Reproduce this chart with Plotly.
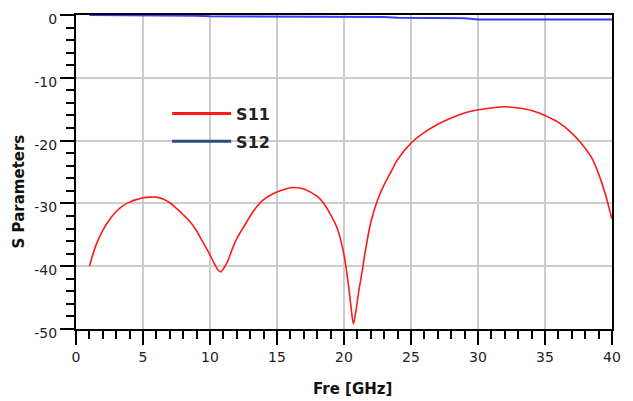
import plotly.graph_objects as go

# ---- data ----
freq_s11 = [1, 1.5, 2, 2.5, 3, 3.5, 4, 4.5, 5, 5.5, 6, 6.5, 7, 7.5, 8, 8.5, 9, 9.5, 10,
            10.3, 10.6, 10.8, 11, 11.3, 11.6, 12, 12.5, 13, 13.5, 14, 14.5, 15, 15.5, 16,
            16.5, 17, 17.5, 18, 18.5, 19, 19.5, 20, 20.3, 20.5, 20.7, 20.9, 21.1, 21.3,
            21.6, 22, 22.5, 23, 23.5, 24, 25, 26, 27, 28, 29, 30, 31, 32, 33, 34, 35, 36,
            37, 38, 38.5, 39, 39.5, 40]
s11 = [-40.0, -36.6, -34.3, -32.6, -31.3, -30.4, -29.8, -29.4, -29.1, -29.0, -29.0, -29.3,
       -29.9, -30.8, -31.8, -32.9, -34.4, -36.3, -38.2,
       -39.5, -40.6, -40.9, -40.4, -39.3, -37.6, -35.6, -33.8, -32.0, -30.5, -29.4, -28.7,
       -28.2, -27.8, -27.5, -27.5, -27.7, -28.2, -28.9, -30.0, -31.8, -34.0, -38.2, -42.5,
       -46.0, -49.2, -47.0, -44.0, -41.5, -37.5, -33.0, -29.5, -27.0, -25.0, -23.0, -20.4,
       -18.7, -17.4, -16.4, -15.6, -15.1, -14.8, -14.6, -14.8, -15.2, -16.0, -17.1, -18.8,
       -21.2, -22.8, -25.3, -28.5, -32.5]

freq_s12 = [1, 2, 3, 4, 5, 6, 7, 8, 9, 10, 11, 12, 13, 14, 15, 16, 17, 18, 19, 20, 21, 22,
            23, 24, 25, 26, 27, 28, 29, 30, 31, 32, 33, 34, 35, 36, 37, 38, 39, 40]
s12 = [0.0, 0.0, 0.0, 0.0, 0.0, 0.0, 0.0, 0.0, -0.1, -0.2, -0.2, -0.2, -0.2, -0.2, -0.2,
       -0.2, -0.2, -0.2, -0.2, -0.2, -0.2, -0.2, -0.3, -0.45, -0.45, -0.45, -0.45, -0.45,
       -0.5, -0.7, -0.7, -0.7, -0.7, -0.7, -0.7, -0.7, -0.7, -0.7, -0.7, -0.7]

x_ticks = [0, 5, 10, 15, 20, 25, 30, 35, 40]
y_ticks = [0, -10, -20, -30, -40, -50]

fig = go.Figure()
fig.add_trace(go.Scatter(x=freq_s11, y=s11, mode="lines", name="S11",
                         line=dict(color="#ff1a1a", width=1.6, shape="spline", smoothing=0.8),
                         showlegend=False))
fig.add_trace(go.Scatter(x=freq_s12, y=s12, mode="lines", name="S12",
                         line=dict(color="#3b3bff", width=2), showlegend=False))
# legend entries
fig.add_trace(go.Scatter(x=[None], y=[None], mode="lines", name="S11", legendgroup="a",
                         line=dict(color="#ff1a1a", width=3)))
fig.add_trace(go.Scatter(x=[None], y=[None], mode="lines", name="S12", legendgroup="b",
                         line=dict(color="#2d4a7f", width=3)))

axis_common = dict(
    showline=True, linecolor="black", linewidth=2, mirror=True,
    ticks="outside", ticklen=14, tickwidth=2, tickcolor="black",
    showgrid=True, gridcolor="#cccccc", gridwidth=1.5,
    zeroline=False, automargin=False, ticklabeloverflow="allow",
    tickfont=dict(family="DejaVu Sans", size=14, color="#222222"),
)

fig.update_xaxes(range=[0, 40], tickvals=x_ticks, ticktext=[str(v) for v in x_ticks],
                 minor=dict(dtick=1, tick0=0, ticks="outside", ticklen=8, tickwidth=2,
                            tickcolor="black", showgrid=False),
                 **axis_common)
fig.update_yaxes(range=[-50, 0], tickvals=y_ticks, ticktext=[str(v) for v in y_ticks],
                 ticklabelshift=4,
                 minor=dict(dtick=2, tick0=0, ticks="outside", ticklen=8, tickwidth=2,
                            tickcolor="black", showgrid=False),
                 **axis_common)

fig.update_layout(
    width=625, height=393,
    template="none",
    margin=dict(l=68, r=21, t=7, b=72),
    paper_bgcolor="white", plot_bgcolor="white",
    legend=dict(x=0.17, y=0.74, xanchor="left", yanchor="top",
                bgcolor="rgba(0,0,0,0)", itemwidth=59, tracegroupgap=4,
                font=dict(family="DejaVu Sans", size=16, color="#222222", weight="bold")),
    annotations=[
        dict(text="<b>Fre [GHz]</b>", xref="paper", yref="paper", x=0.5165, y=-0.19,
             xanchor="center", yanchor="middle", showarrow=False,
             font=dict(family="DejaVu Sans", size=15, color="#111111")),
        dict(text="<b>S Parameters</b>", xref="paper", yref="paper", x=-0.107, y=0.437,
             xanchor="center", yanchor="middle", showarrow=False, textangle=-90,
             font=dict(family="DejaVu Sans", size=15, color="#111111")),
    ],
)

fig.write_html("out.html")
